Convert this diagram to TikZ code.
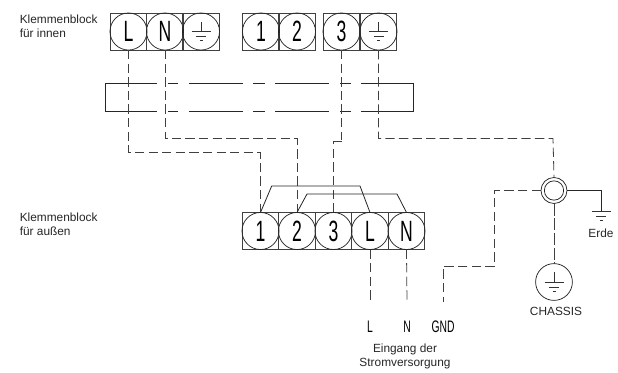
\documentclass[tikz,border=0pt]{standalone}
\usepackage{fontspec}
\setmainfont{Liberation Sans}
\newcommand{\termcell}[4]{%
  \node[cellbox] (#1box) at (#2,#3) {};
  \node[termcirc] (#1) at (#2,#3) {\scalebox{0.6}[1]{#4}};
}
\newcommand{\gndmark}[2]{%
  \draw[gline] (#1-9.5,#2) -- (#1+9.5,#2);
  \draw[gline] (#1-5,#2+5) -- (#1+5,#2+5);
  \draw[gline] (#1-1.5,#2+9.5) -- (#1+1.5,#2+9.5);
}
\tikzset{
  cellbox/.style={draw=black!75,line width=0.55pt,minimum width=27.3pt,minimum height=27.6pt,inner sep=0pt,outer sep=0pt},
  termcirc/.style={draw=black!85,circle,line width=0.55pt,minimum size=27.8pt,inner sep=0pt,outer sep=0pt,font=\fontsize{22pt}{24pt}\selectfont},
  wire/.style={line width=0.6pt,draw=black!75,dash pattern=on 7pt off 3.2pt},
  solidwire/.style={line width=0.6pt,draw=black!85},
  rectline/.style={line width=0.6pt,draw=black!85},
  gline/.style={line width=0.55pt,draw=black!80},
  lbl/.style={font=\fontsize{8.9pt}{10.5pt}\selectfont,text=black!85,inner sep=0pt,align=left},
  clbl/.style={font=\fontsize{8.9pt}{10.5pt}\selectfont,text=black!85,inner sep=0pt,align=center},
  nlbl/.style={font=\fontsize{12.5pt}{14pt}\selectfont,inner sep=0pt},
}
\begin{document}
\begin{tikzpicture}[x=0.75pt,y=-0.75pt]
\useasboundingbox (0,0) rectangle (618,372);
% labels
\node[lbl,anchor=north west] (t1) at (19.5,15) {Klemmenblock\\für innen};
\node[lbl,anchor=north west] (t2) at (19.5,213) {Klemmenblock\\für außen};
% indoor blocks
\termcell{iL}{128.5}{31.5}{L}
\termcell{iN}{165}{31.5}{N}
\termcell{iG}{201}{31.5}{}
\termcell{iA}{261}{31.5}{1}
\termcell{iB}{297}{31.5}{2}
\termcell{iC}{341.5}{31.5}{3}
\termcell{iE}{378.5}{31.5}{}
\gndmark{201}{31}
\draw[gline] (201,22) -- (201,31);
\gndmark{378.5}{31}
\draw[gline] (378.5,22) -- (378.5,31);
% cable rectangle
\draw[rectline] (157,83) -- (105,83) -- (105,111) -- (157,111);
\draw[rectline] (361,83) -- (413,83) -- (413,111) -- (361,111);
\foreach \y in {83,111}{
  \draw[rectline] (168,\y) -- (178,\y);
  \draw[rectline] (189,\y) -- (243,\y);
  \draw[rectline] (253,\y) -- (265,\y);
  \draw[rectline] (275,\y) -- (329,\y);
  \draw[rectline] (340,\y) -- (351,\y);
}
% outdoor block
\termcell{oA}{260.5}{231}{1}
\termcell{oB}{297}{231}{2}
\termcell{oC}{333.5}{231}{3}
\termcell{oL}{370}{231}{L}
\termcell{oN}{406.5}{231}{N}
% ring, chassis
\node[circle,draw=black!85,line width=0.55pt,minimum size=19.5pt,inner sep=0pt,outer sep=0pt] (ring) at (554,190.5) {};
\node[circle,draw=black!85,line width=0.55pt,minimum size=14.5pt,inner sep=0pt,outer sep=0pt] (ringin) at (554,190.5) {};
\node[circle,draw=black!85,line width=0.55pt,minimum size=27.6pt,inner sep=0pt,outer sep=0pt] (chassis) at (554,282) {};
\gndmark{554}{282}
\draw[gline] (554,272) -- (554,282);
% free ends
\coordinate (fL) at (370,302);
\coordinate (fN) at (407,302);
\coordinate (fG) at (443,302);
\coordinate (eG) at (601,211);
\gndmark{601}{211}
% wires
\draw[wire] (iL.south) |- (128.5,152.4) -| (oA.north);
\draw[wire] (iN.south) |- (165,138.4) -| (oB.north);
\draw[wire] (iC.south) -- (341.5,140);
\draw[wire] (333.5,141) -- (341.5,141);
\draw[wire] (oC.north) -- (333.5,141);
\draw[wire] (iE.south) |- (553,138.4) -- (ring.north);
\draw[wire] (ring.west) -| (494,266.4) -| (fG);
\draw[wire,dash pattern=on 9pt off 2pt] (ring.south) -- (chassis.north);
\draw[solidwire] (ring.east) -| (eG);
\draw[wire] (oL.south) -- (fL);
\draw[wire] (oN.south) -- (fN);
% jumpers
\draw[solidwire] (oA.north) -- (271.7,186) -- (360,186) -- (oL.north);
\draw[solidwire] (oB.north) -- (307,194) -- (397,194) -- (oN.north);
% lower labels
\node[nlbl] (nL) at (370,327) {\scalebox{0.62}[1]{L}};
\node[nlbl] (nN) at (407,327) {\scalebox{0.62}[1]{N}};
\node[nlbl] (nG) at (443,327) {\scalebox{0.62}[1]{GND}};
\node[clbl] (t3) at (405,356) {Eingang der\\Stromversorgung};
\node[clbl] (t4) at (601,233) {Erde};
\node[clbl] (t5) at (556,311) {CHASSIS};
\end{tikzpicture}
\end{document}
